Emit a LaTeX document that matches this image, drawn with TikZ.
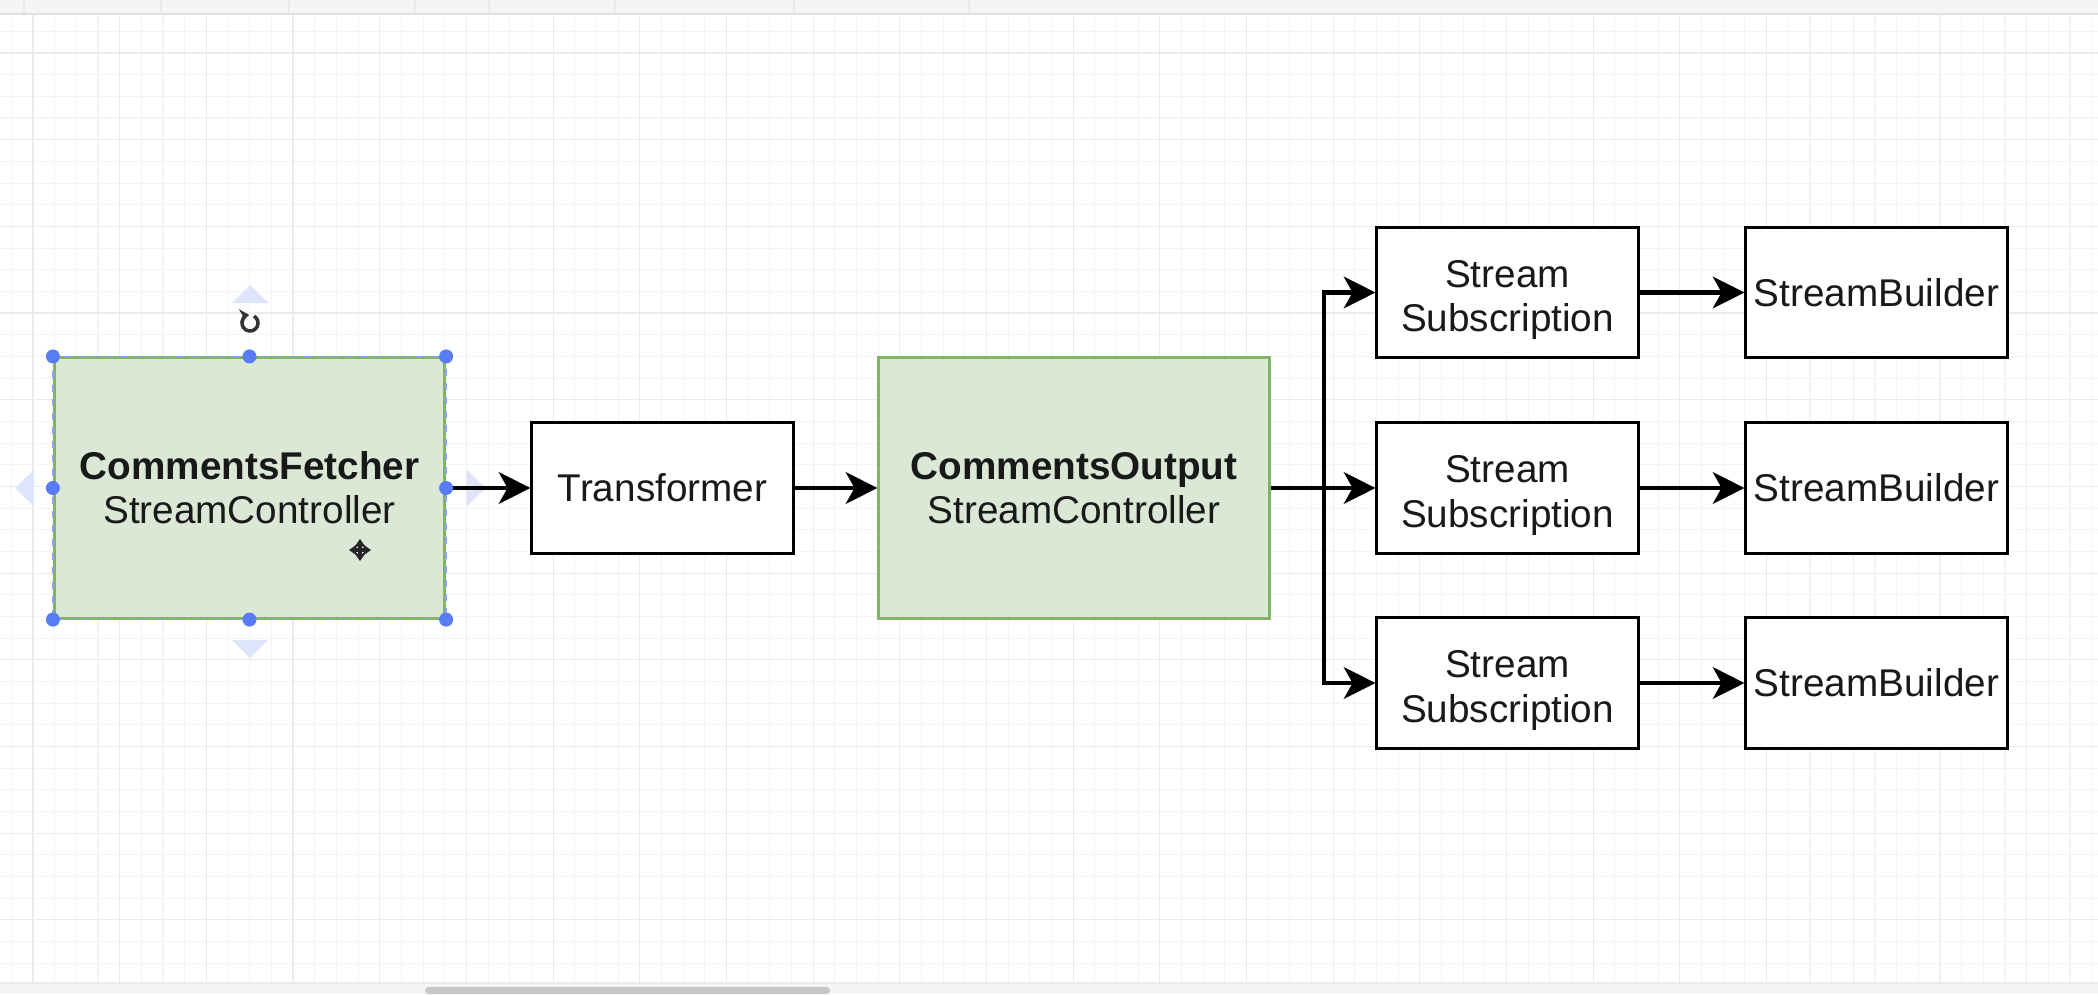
\documentclass[tikz,border=0pt]{standalone}
\usepackage{fontspec}
\setmainfont{Liberation Sans}
\usepackage{tikz}
\usetikzlibrary{arrows.meta, calc}
\definecolor{boxgreen}{RGB}{218,232,213}
\definecolor{linegreen}{RGB}{130,179,102}
\definecolor{handleblue}{RGB}{88,124,244}
\definecolor{hintblue}{RGB}{222,229,251}
\definecolor{gridminor}{RGB}{244,244,247}
\definecolor{gridmajor}{RGB}{234,234,239}
\definecolor{barbg}{RGB}{245,244,247}
\newcommand{\subtext}{\rule{0pt}{12pt}Stream\\Subscription}

\begin{document}
\begin{tikzpicture}[x=0.01cm, y=-0.01cm,
  box/.style={draw=black, line width=0.85pt, fill=white, minimum width=2.61cm, minimum height=1.3cm,
    align=center, inner sep=0pt, text=black!90, font=\fontsize{11pt}{12.6pt}\selectfont},
  greenbox/.style={box, fill=boxgreen, draw=linegreen, minimum width=3.9cm, minimum height=2.6cm},
  arr/.style={line width=1.15pt, -{Stealth[length=9pt, width=9pt, inset=2.5pt]}},
  handle/.style={fill=handleblue}]
\useasboundingbox (0,0) rectangle (2098,994);
\fill[white] (0,0) rectangle (2098,994);

% Canvas grid
\foreach \i in {0,...,96} \draw[gridminor, line width=0.3pt] ({11.33+21.67*\i},15) -- ++(0,968);
\foreach \i in {1,...,44} \draw[gridminor, line width=0.3pt] (0,{9.67+21.67*\i}) -- ++(2098,0);
\foreach \i in {0,...,23} \draw[gridmajor, line width=0.3pt] ({33+86.67*\i},15) -- ++(0,968);
\foreach \i in {0,...,10} \draw[gridmajor, line width=0.3pt] (0,{53+86.67*\i}) -- ++(2098,0);

% Toolbar and scrollbar
\fill[barbg] (0,0) rectangle (2098,14);
\draw[black!12, line width=0.4pt] (0,14) -- (2098,14);
\foreach \x in {24,161,289,415,489,615,794,969} \draw[black!8, line width=0.4pt] (\x,0) -- (\x,13);
\fill[barbg] (0,983) rectangle (2098,994);
\draw[black!8, line width=0.4pt] (0,983) -- (2098,983);
\fill[black!22, rounded corners=1pt] (425,987) rectangle (830,994);

% Selection hints
\fill[hintblue] (250,285) -- (232,303) -- (268,303) -- cycle;
\fill[hintblue] (250,658) -- (232,640) -- (268,640) -- cycle;
\fill[hintblue] (15,488) -- (34,470) -- (34,506) -- cycle;
\fill[hintblue] (486,488) -- (467,470) -- (467,506) -- cycle;

% Controllers
\node[greenbox] (fetch) at (249.5,488) {\textbf{CommentsFetcher}\\StreamController};
\node[box] (trans) at (662.5,488) {Transformer};
\node[greenbox] (out) at (1074,488) {\textbf{CommentsOutput}\\StreamController};

% Subscriptions and builders
\node[box] (sub1) at (1507.5,292.5) {\subtext};
\node[box] (sub2) at (1507.5,488) {\subtext};
\node[box] (sub3) at (1507.5,683) {\subtext};
\node[box] (bld1) at (1876.5,292.5) {StreamBuilder};
\node[box] (bld2) at (1876.5,488) {StreamBuilder};
\node[box] (bld3) at (1876.5,683) {StreamBuilder};

\draw[arr] (fetch.east) -- (trans.west);
\draw[arr] (trans.east) -- (out.west);
\coordinate (split) at ($(out.east)+(53,0)$);
\draw[arr] (out.east) -- (sub2.west);
\draw[arr] (split) |- (sub1.west);
\draw[arr] (split) |- (sub3.west);
\foreach \i in {1,2,3} \draw[arr] (sub\i.east) -- (bld\i.west);

% Selected box
\draw[handleblue!70, line width=0.5pt, dash pattern=on 2pt off 2pt] (fetch.north west) rectangle (fetch.south east);
\foreach \p in {north west,north,north east,west,east,south west,south,south east}
  \fill[handle] (fetch.\p) circle (0.07cm);
\draw[black!80, line width=1pt, -{Stealth[length=2.8pt,width=3.8pt]}] (250,323) ++(60:0.08cm) arc[start angle=60, end angle=-265, radius=0.08cm];
\foreach \a in {0,90,180,270}
  \draw[black!85, line width=0.9pt, -{Stealth[length=2.6pt,width=3.6pt]}] (360,550) -- ++(\a:0.11cm);
\end{tikzpicture}
\end{document}
